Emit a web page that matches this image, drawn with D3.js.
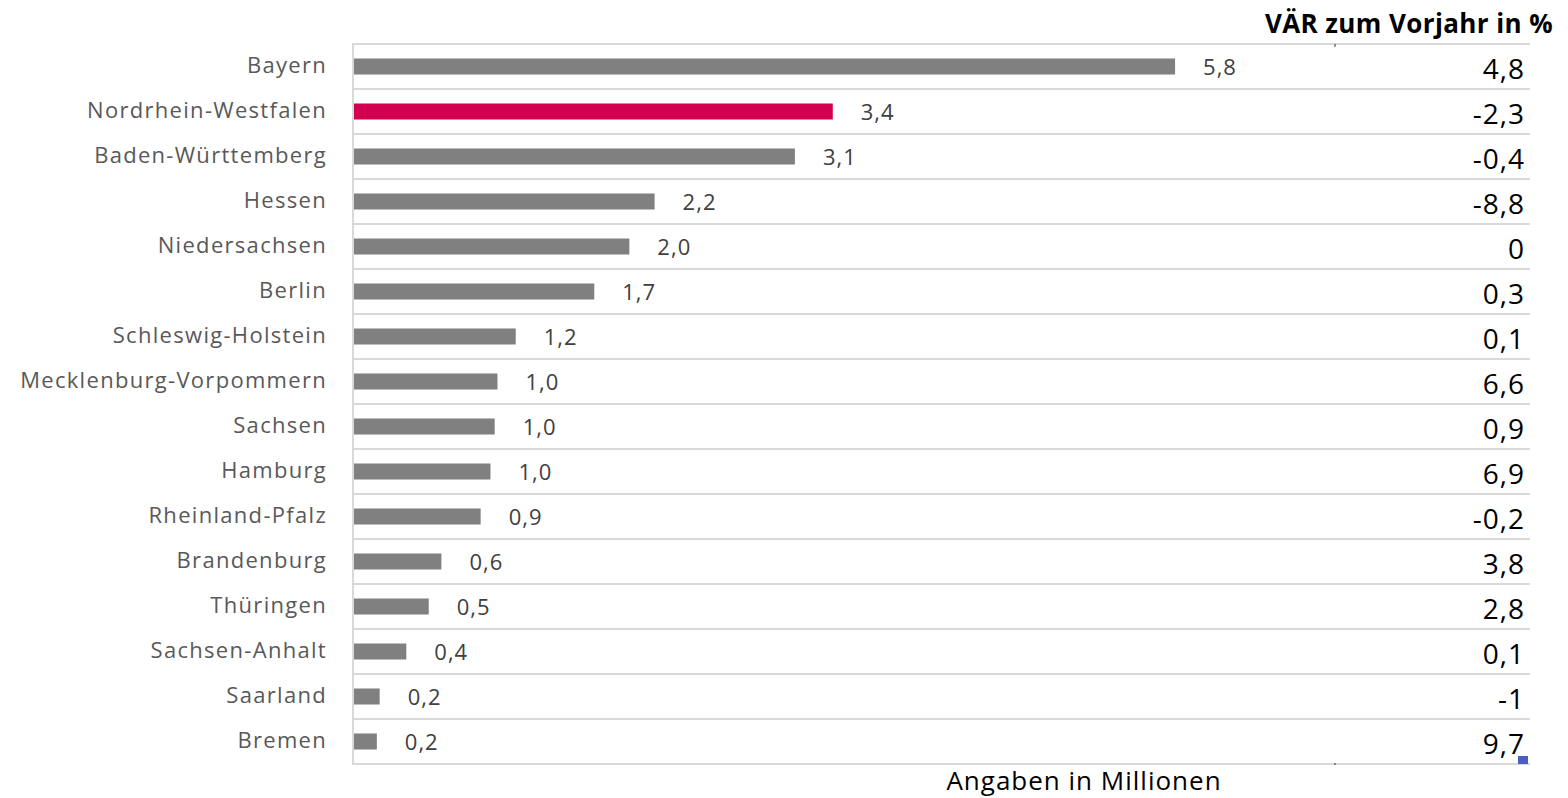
<!DOCTYPE html>
<html>
<head>
<meta charset="utf-8">
<script src="https://cdn.jsdelivr.net/npm/d3@7"></script>
<style>
  html, body { margin: 0; padding: 0; background: #fff; }
  svg { display: block; }
  text { font-family: "Open Sans", "Noto Sans", sans-serif; }
</style>
</head>
<body>
<svg id="chart" width="1568" height="798"></svg>
<script>
// ---- data ----
const categories = ["Bayern", "Nordrhein-Westfalen", "Baden-Württemberg", "Hessen", "Niedersachsen",
  "Berlin", "Schleswig-Holstein", "Mecklenburg-Vorpommern", "Sachsen", "Hamburg",
  "Rheinland-Pfalz", "Brandenburg", "Thüringen", "Sachsen-Anhalt", "Saarland", "Bremen"];
const values = [5.86, 3.42, 3.15, 2.15, 1.97, 1.72, 1.16, 1.03, 1.01, 0.98, 0.91, 0.63, 0.54, 0.38, 0.19, 0.17];
const valueLabels = ["5,8", "3,4", "3,1", "2,2", "2,0", "1,7", "1,2", "1,0", "1,0", "1,0", "0,9", "0,6", "0,5", "0,4", "0,2", "0,2"];
const changes = ["4,8", "-2,3", "-0,4", "-8,8", "0", "0,3", "0,1", "6,6", "0,9", "6,9", "-0,2", "3,8", "2,8", "0,1", "-1", "9,7"];
const highlight = ["Nordrhein-Westfalen"];
const tableHeader = "VÄR zum Vorjahr in %";
const axisTitle = "Angaben in Millionen";

// ---- layout ----
const svg = d3.select("#chart");
const mLeft = 353, mRight = 1335, tableRight = 1530, mTop = 44, mBottom = 764;

const x = d3.scaleLinear().domain([0, 7]).range([mLeft, mRight]);
const y = d3.scaleBand().domain(categories).range([mTop, mBottom])
  .paddingInner(0.644).paddingOuter(0.322);
const step = y.step();

// grid lines (row separators)
const bounds = d3.range(categories.length + 1).map(i => mTop + i * step);
svg.append("g").selectAll("line").data(bounds).join("line")
  .attr("x1", mLeft).attr("x2", tableRight)
  .attr("y1", d => d).attr("y2", d => d)
  .attr("stroke", "#d9d9d9").attr("stroke-width", 2);

// vertical axis line
svg.append("line").attr("x1", mLeft).attr("x2", mLeft).attr("y1", mTop - 1).attr("y2", mBottom + 1)
  .attr("stroke", "#d9d9d9").attr("stroke-width", 2);

// small ticks at the chart/table boundary
svg.append("line").attr("x1", mRight).attr("x2", mRight).attr("y1", mTop).attr("y2", mTop + 3)
  .attr("stroke", "#333").attr("stroke-width", 1);
svg.append("line").attr("x1", mRight).attr("x2", mRight).attr("y1", mBottom - 1).attr("y2", mBottom + 1)
  .attr("stroke", "#333").attr("stroke-width", 1);

// bars
svg.append("g").selectAll("rect").data(categories).join("rect")
  .attr("x", x(0) + 1)
  .attr("y", d => y(d))
  .attr("width", (d, i) => x(values[i]) - x(0) - 1)
  .attr("height", y.bandwidth())
  .attr("fill", d => highlight.includes(d) ? "#d10050" : "#808080");

// category labels
svg.append("g").selectAll("text").data(categories).join("text")
  .attr("x", 327)
  .attr("y", d => y(d) + y.bandwidth() / 2 - 3)
  .attr("text-anchor", "end")
  .attr("dominant-baseline", "central")
  .attr("font-size", 22)
  .attr("letter-spacing", 1.3)
  .attr("fill", "#595959")
  .text(d => d);

// value labels
svg.append("g").selectAll("text").data(categories).join("text")
  .attr("x", (d, i) => x(values[i]) + 28)
  .attr("y", d => y(d) + y.bandwidth() / 2 - 1)
  .attr("dominant-baseline", "central")
  .attr("font-size", 22)
  .attr("letter-spacing", 1)
  .attr("fill", "#404040")
  .text((d, i) => valueLabels[i]);

// table column
svg.append("g").selectAll("text").data(categories).join("text")
  .attr("x", 1525)
  .attr("y", d => y(d) + y.bandwidth() / 2 + 1)
  .attr("text-anchor", "end")
  .attr("dominant-baseline", "central")
  .attr("font-size", 28)
  .attr("letter-spacing", 1)
  .attr("fill", "#000")
  .text((d, i) => changes[i]);

svg.append("text").attr("x", 1553).attr("y", 33).attr("text-anchor", "end")
  .attr("font-size", 26).attr("font-weight", "bold").attr("letter-spacing", 0.4)
  .attr("fill", "#000").text(tableHeader);

svg.append("text").attr("x", 1084).attr("y", 790).attr("text-anchor", "middle")
  .attr("font-size", 26).attr("letter-spacing", 1).attr("fill", "#000").text(axisTitle);

// selection handle
svg.append("rect").attr("x", 1518).attr("y", 756).attr("width", 10).attr("height", 8).attr("fill", "#4a5fc1");
</script>
</body>
</html>
